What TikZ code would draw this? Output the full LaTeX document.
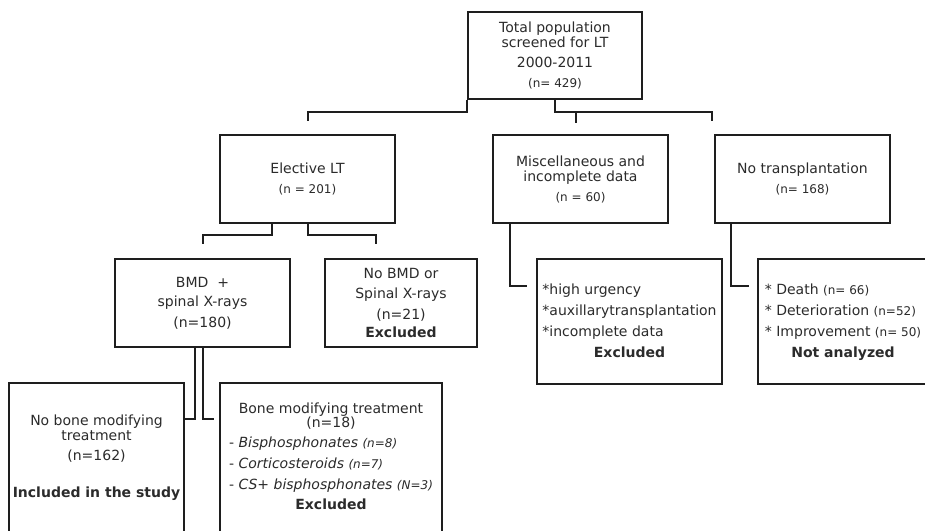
\documentclass[tikz,border=0pt]{standalone}
\usepackage{fontspec}
\setmainfont{DejaVu Sans}
\usetikzlibrary{calc}
\definecolor{txtgray}{HTML}{2B2B2B}
\definecolor{linegray}{HTML}{1E1E1E}
\newcommand\smalln[1]{{\fontsize{12}{14}\selectfont #1}}
\newcommand\midline[1]{\multicolumn{1}{@{}c@{}}{#1}}

\begin{document}
\begin{tikzpicture}[x=1pt,y=-1pt,
    box/.style={rectangle,draw=linegray,line width=2pt,text=txtgray,align=center,
        inner sep=0pt,font=\fontsize{14}{16.5}\selectfont},
    link/.style={draw=linegray,line width=2pt}]

    \useasboundingbox[fill=white] (0,0) rectangle (925,530);
    \clip (0,0) rectangle (925,530);

    \node[box,minimum width=174pt,minimum height=87pt] (total) at (555,55.5)
        {Total population\\[-1pt]screened for LT\\[3pt]2000-2011\\[4pt]\smalln{(n= 429)}};

    \node[box,minimum width=175pt,minimum height=88pt] (elective) at (307.5,179)
        {Elective LT\\[4pt]\smalln{(n = 201)}};
    \node[box,minimum width=175pt,minimum height=88pt] (misc) at (580.5,179)
        {Miscellaneous and\\[-1pt]incomplete data\\[3pt]\smalln{(n = 60)}};
    \node[box,minimum width=175pt,minimum height=88pt] (notr) at (802.5,179)
        {No transplantation\\[4pt]\smalln{(n= 168)}};

    \node[box,minimum width=175pt,minimum height=88pt] (bmd) at (202.5,303)
        {BMD~~+\\[3pt]spinal X-rays\\[4pt](n=180)};
    \node[box,minimum width=152pt,minimum height=88pt] (nobmd) at (401,303)
        {No BMD or\\[4pt]Spinal X-rays\\[4pt](n=21)\\[2pt]\textbf{Excluded}};

    \node[box,minimum width=185pt,minimum height=125pt] (urgent) at (629.5,321.5)
        {\renewcommand{\arraystretch}{1.28}\begin{tabular}{@{}l@{}}
        {*}high urgency\\
        {*}auxillarytransplantation\\
        {*}incomplete data\\
        \midline{\textbf{Excluded}}
        \end{tabular}};
    \node[box,minimum width=182pt,minimum height=125pt] (death) at (849,321.5)
        {\hspace*{-12pt}\renewcommand{\arraystretch}{1.28}\begin{tabular}{@{}l@{}}
        {*} Death \smalln{(n= 66)}\\
        {*} Deterioration \smalln{(n=52)}\\
        {*} Improvement \smalln{(n= 50)}\\
        \midline{\textbf{Not analyzed}}
        \end{tabular}};

    \node[box,minimum width=175pt,minimum height=149pt] (nobone) at (96.5,457.5)
        {No bone modifying\\[-2pt]treatment\\[4pt](n=162)\\[20pt]\textbf{Included in the study}};
    \node[box,minimum width=222pt,minimum height=149pt] (bone) at (331,457.5)
        {\renewcommand{\arraystretch}{1.25}\begin{tabular}{@{}l@{}}
        \midline{Bone modifying treatment}\\[-7pt]
        \midline{(n=18)}\\
        - \textit{Bisphosphonates \smalln{(n=8)}}\\
        - \textit{Corticosteroids \smalln{(n=7)}}\\
        - \textit{CS+ bisphosphonates \smalln{(N=3)}}\\
        \midline{\textbf{Excluded}}
        \end{tabular}};

    \draw[link] (total.south west) -- ++(0,12) -| ($(elective.north)+(0,-13)$);
    \draw[link] (total.south) -- ++(0,12) -| ($(notr.north west)+(-2,-13)$);
    \draw[link] (total.south) ++(21,12) -- ++(0,11);

    \draw[link] (elective.south) ++(-35.5,0) -- ++(0,11) -| ($(bmd.north)+(0,-14)$);
    \draw[link] (elective.south) -- ++(0,11) -| ($(nobmd.north west)+(52,-14)$);

    \draw[link] (misc.south west) ++(18,0) |- ($(urgent.north west)+(-9,28)$);
    \draw[link] (notr.south west) ++(17,0) |- ($(death.north west)+(-8,28)$);

    \draw[link] ($(bmd.south)+(-7.5,0)$) |- ($(nobone.north east)+(0,37)$);
    \draw[link] (bmd.south) |- ($(bone.north west)+(-5,37)$);
\end{tikzpicture}
\end{document}
